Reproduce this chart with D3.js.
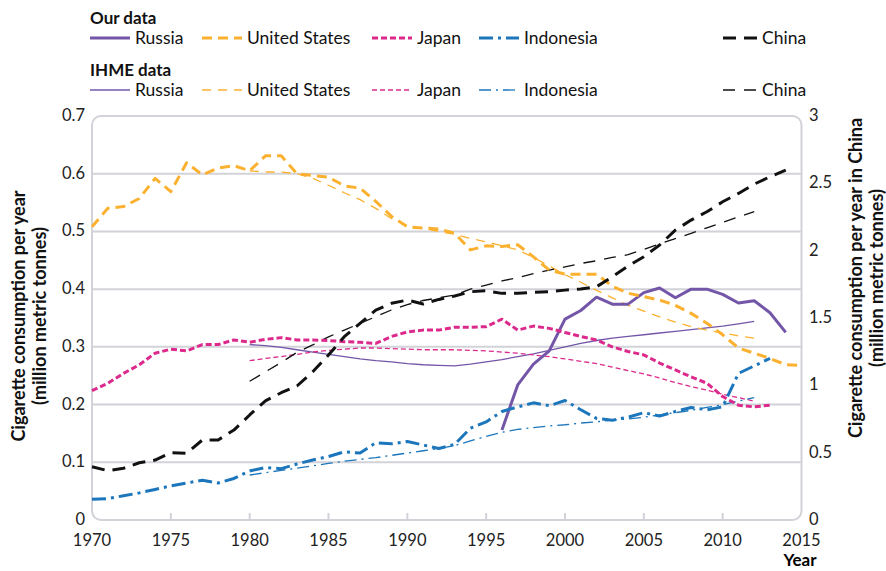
<!DOCTYPE html>
<html>
<head>
<meta charset="utf-8">
<script src="https://cdn.jsdelivr.net/npm/d3@7"></script>
<style>
  body { margin: 0; background: #fff; }
  svg { display: block; font-family: Lato, "Noto Sans", sans-serif; }
</style>
</head>
<body>
<svg id="chart" width="886" height="571"></svg>
<script>
"use strict";

// Our data (left axis except China, which uses the right axis)
var usStart = 1970;
var usOur = [.508,.540,.543,.557,.592,.569,.619,.598,.610,.614,
             .605,.631,.631,.600,.597,.594,.579,.575,.552,.526,
             .508,.506,.504,.497,.468,.475,.474,.477,.456,.433,
             .426,.426,.426,.405,.393,.387,.381,.372,.358,.341,
             .321,.298,.289,.280,.269,.268];
var japanStart = 1970;
var japanOur = [.224,.237,.254,.269,.289,.296,.293,.304,.304,.312,
                .308,.313,.316,.312,.312,.311,.309,.308,.306,.318,
                .326,.329,.329,.334,.334,.335,.348,.329,.336,.332,
                .325,.318,.312,.300,.292,.286,.272,.260,.248,.237,
                .214,.199,.196,.199];
var indonesiaStart = 1970;
var indonesiaOur = [.036,.037,.042,.047,.053,.059,.064,.069,.064,.072,
                    .085,.091,.089,.097,.104,.110,.118,.116,.134,.132,
                    .136,.130,.124,.131,.159,.170,.188,.196,.203,.198,
                    .207,.191,.176,.173,.178,.186,.180,.188,.195,.191,
                    .196,.254,.267,.280];
var russiaStart = 1996;
var russiaOur = [.156,.234,.270,.293,.348,.363,.386,.374,.374,.394,
                 .402,.385,.400,.400,.391,.376,.380,.359,.325];
var chinaStart = 1970;
var chinaOur = [.396,.366,.384,.425,.445,.500,.495,.594,.594,.668,
                .780,.885,.945,.995,1.101,1.225,1.361,1.460,1.559,1.609,
                1.633,1.604,1.638,1.663,1.695,1.702,1.683,1.683,1.690,1.695,
                1.707,1.715,1.732,1.806,1.886,1.955,2.042,2.153,2.227,2.289,
                2.363,2.425,2.494,2.549,2.598];

// IHME data, 1980-2012
var ihmeStart = 1980;
var usIhme = [.605,.603,.603,.600,.592,.580,.567,.555,.540,.522,
              .510,.505,.500,.495,.488,.482,.475,.468,.455,.440,
              .425,.412,.398,.385,.372,.362,.352,.343,.335,.329,
              .324,.319,.315];
var japanIhme = [.276,.280,.283,.287,.291,.294,.296,.298,.298,.297,
                 .296,.295,.295,.295,.294,.293,.291,.289,.286,.283,
                 .279,.275,.271,.265,.259,.253,.246,.238,.231,.225,
                 .218,.212,.206];
var indonesiaIhme = [.078,.082,.086,.090,.094,.098,.102,.105,.108,.112,
                     .116,.120,.124,.129,.137,.145,.152,.157,.160,.163,
                     .165,.168,.170,.173,.175,.178,.182,.186,.190,.195,
                     .200,.206,.212];
var russiaIhme = [.304,.302,.299,.295,.291,.287,.283,.279,.276,.274,
                  .271,.269,.268,.267,.270,.274,.278,.283,.288,.294,
                  .300,.306,.311,.315,.318,.321,.324,.327,.330,.333,
                  .336,.340,.344];
var chinaIhme = [1.03,1.10,1.17,1.245,1.30,1.36,1.41,1.46,1.51,1.56,
                 1.60,1.63,1.65,1.67,1.715,1.745,1.775,1.80,1.83,1.855,
                 1.88,1.905,1.925,1.95,1.97,2.01,2.05,2.09,2.128,2.17,
                 2.21,2.25,2.29];

var xTicks = [1970, 1975, 1980, 1985, 1990, 1995, 2000, 2005, 2010, 2015];
var leftTicks = [0, 0.1, 0.2, 0.3, 0.4, 0.5, 0.6, 0.7];
var rightTicks = [0, 0.5, 1, 1.5, 2, 2.5, 3];

function toPoints(start, values) {
  return values.map(function (v, i) { return { year: start + i, value: v }; });
}

var svg = d3.select('#chart');

var x = d3.scaleLinear().domain([1970, 2015]).range([92, 801.5]);
var yL = d3.scaleLinear().domain([0, 0.7]).range([520, 116]);
var yR = d3.scaleLinear().domain([0, 3]).range([520, 116]);

var grid = '#d2d2d9';

// gridlines
svg.append('g').selectAll('line')
  .data(leftTicks.slice(1, -1))
  .enter().append('line')
  .attr('x1', x(1970)).attr('x2', x(2015))
  .attr('y1', function (d) { return yL(d); })
  .attr('y2', function (d) { return yL(d); })
  .attr('stroke', grid).attr('stroke-width', 2);

// frame
svg.append('rect')
  .attr('x', x(1970)).attr('y', yL(0.7))
  .attr('width', x(2015) - x(1970)).attr('height', yL(0) - yL(0.7))
  .attr('rx', 9).attr('ry', 9)
  .attr('fill', 'none').attr('stroke', grid).attr('stroke-width', 2);

// x ticks
svg.append('g').selectAll('line')
  .data(xTicks.slice(1, -1))
  .enter().append('line')
  .attr('x1', function (d) { return x(d); })
  .attr('x2', function (d) { return x(d); })
  .attr('y1', yL(0)).attr('y2', yL(0) - 7)
  .attr('stroke', grid).attr('stroke-width', 2);

var tickFont = 16.5;
svg.append('g').selectAll('text')
  .data(xTicks)
  .enter().append('text')
  .attr('x', function (d) { return x(d); })
  .attr('y', 546)
  .attr('text-anchor', 'middle')
  .attr('font-size', tickFont).attr('fill', '#222')
  .text(function (d) { return d; });

svg.append('g').selectAll('text')
  .data(leftTicks)
  .enter().append('text')
  .attr('x', 85)
  .attr('y', function (d) { return yL(d) + 5; })
  .attr('text-anchor', 'end')
  .attr('font-size', tickFont).attr('fill', '#222')
  .text(function (d) { return d; });

svg.append('g').selectAll('text')
  .data(rightTicks)
  .enter().append('text')
  .attr('x', 809)
  .attr('y', function (d) { return yR(d) + 5; })
  .attr('text-anchor', 'start')
  .attr('font-size', tickFont).attr('fill', '#222')
  .text(function (d) { return d; });

// axis titles
svg.append('text')
  .attr('x', 800).attr('y', 566)
  .attr('text-anchor', 'middle')
  .attr('font-size', 17).attr('font-weight', 'bold')
  .text('Year');

function vTitle(cx, cy, lines, size) {
  var t = svg.append('text')
    .attr('transform', 'translate(' + cx + ',' + cy + ') rotate(-90)')
    .attr('text-anchor', 'middle')
    .attr('font-size', size).attr('font-weight', 'bold').attr('fill', '#111');
  lines.forEach(function (l, i) {
    t.append('tspan').attr('x', 0).attr('y', i * 21).text(l);
  });
}
vTitle(25, 316, ['Cigarette consumption per year', '(million metric tonnes)'], 18);
vTitle(862, 278, ['Cigarette consumption per year in China', '(million metric tonnes)'], 18);

// series styles
var colors = {
  Russia: '#7456a8', 'United States': '#fbb12f', Japan: '#dc2a8c',
  Indonesia: '#1c76bc', China: '#111111'
};
var thickDash = { Russia: null, 'United States': '10,6', Japan: '6,3', Indonesia: '14,5,3,5', China: '13,8' };
var thinDash = { Russia: null, 'United States': '9,7', Japan: '5,3', Indonesia: '12,5,2,5', China: '12,9' };

var ourSeries = [
  { name: 'Russia', axis: yL, points: toPoints(russiaStart, russiaOur) },
  { name: 'United States', axis: yL, points: toPoints(usStart, usOur) },
  { name: 'Japan', axis: yL, points: toPoints(japanStart, japanOur) },
  { name: 'Indonesia', axis: yL, points: toPoints(indonesiaStart, indonesiaOur) },
  { name: 'China', axis: yR, points: toPoints(chinaStart, chinaOur) }
];
var ihmeSeries = [
  { name: 'Russia', axis: yL, points: toPoints(ihmeStart, russiaIhme) },
  { name: 'United States', axis: yL, points: toPoints(ihmeStart, usIhme) },
  { name: 'Japan', axis: yL, points: toPoints(ihmeStart, japanIhme) },
  { name: 'Indonesia', axis: yL, points: toPoints(ihmeStart, indonesiaIhme) },
  { name: 'China', axis: yR, points: toPoints(ihmeStart, chinaIhme) }
];

function lineFor(s) {
  return d3.line()
    .x(function (d) { return x(d.year); })
    .y(function (d) { return s.axis(d.value); })(s.points);
}

var plot = svg.append('g')
  .attr('fill', 'none')
  .attr('stroke-linejoin', 'round');
plot.selectAll('path.ihme')
  .data(ihmeSeries)
  .enter().append('path')
  .attr('class', 'ihme')
  .attr('d', lineFor)
  .attr('stroke', function (s) { return colors[s.name]; })
  .attr('stroke-width', 1.3)
  .attr('stroke-dasharray', function (s) { return thinDash[s.name]; });

plot.selectAll('path.our')
  .data(ourSeries)
  .enter().append('path')
  .attr('class', 'our')
  .attr('d', lineFor)
  .attr('stroke', function (s) { return colors[s.name]; })
  .attr('stroke-width', 3)
  .attr('stroke-dasharray', function (s) { return thickDash[s.name]; });

// legend
var legendX = { Russia: 90, 'United States': 202, Japan: 372, Indonesia: 479, China: 723 };
var legendLen = { Russia: 40, 'United States': 40, Japan: 40, Indonesia: 40, China: 34 };

function legendBlock(title, titleY, rowY, series, width, dashes) {
  svg.append('text')
    .attr('x', 90).attr('y', titleY)
    .attr('font-size', 17).attr('font-weight', 'bold').attr('fill', '#111')
    .text(title);
  var g = svg.append('g').selectAll('g')
    .data(series).enter().append('g');
  g.append('line')
    .attr('x1', function (s) { return legendX[s.name]; })
    .attr('x2', function (s) { return legendX[s.name] + legendLen[s.name]; })
    .attr('y1', rowY).attr('y2', rowY)
    .attr('stroke', function (s) { return colors[s.name]; })
    .attr('stroke-width', width)
    .attr('stroke-dasharray', function (s) { return dashes[s.name]; });
  g.append('text')
    .attr('x', function (s) { return legendX[s.name] + legendLen[s.name] + 5; })
    .attr('y', rowY + 6)
    .attr('font-size', 17.5).attr('fill', '#111')
    .text(function (s) { return s.name; });
}
legendBlock('Our data', 24, 38, ourSeries, 3, thickDash);
legendBlock('IHME data', 76, 90, ihmeSeries, 1.3, thinDash);
</script>
</body>
</html>
